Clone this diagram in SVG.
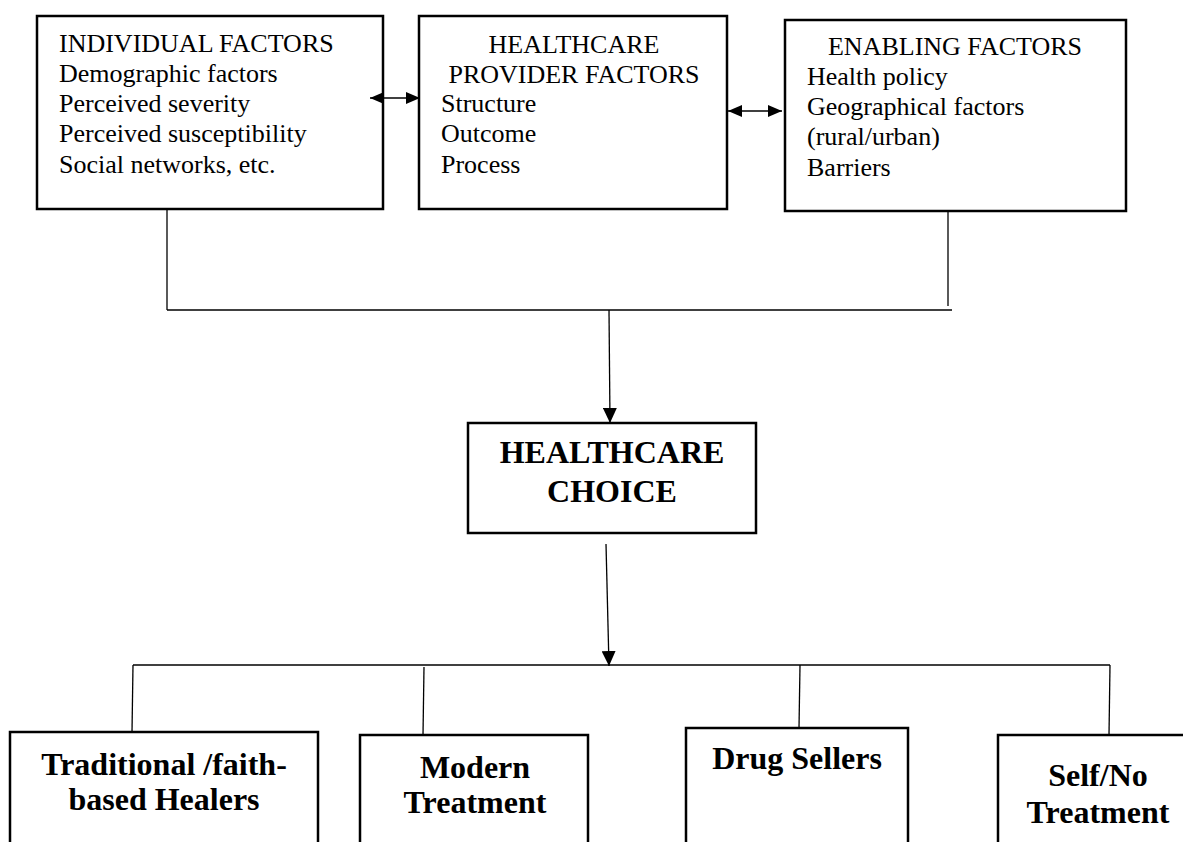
<svg xmlns="http://www.w3.org/2000/svg" width="1183" height="842" viewBox="0 0 1183 842">
<style>
.box{fill:#fff;stroke:#000;stroke-width:2.5}
.t{font-family:"Liberation Serif","Times New Roman",serif;font-size:26px;fill:#000}
.b{font-family:"Liberation Serif","Times New Roman",serif;font-size:32px;font-weight:bold;fill:#000;text-anchor:middle}
.c{stroke:#000;stroke-width:1.3;fill:none}
</style>
<defs>
<marker id="ah" markerUnits="userSpaceOnUse" markerWidth="16" markerHeight="14" refX="15" refY="7" orient="auto-start-reverse">
<path d="M0,0 L15,7 L0,14 Z" fill="#000"/>
</marker>
<marker id="dh" markerUnits="userSpaceOnUse" markerWidth="16" markerHeight="12" refX="14" refY="6" orient="auto-start-reverse">
<path d="M0,0 L14,6 L0,12 Z" fill="#000"/>
</marker>
</defs>
<rect width="1183" height="842" fill="#fff"/>
<g id="individual">
<rect class="box" x="37" y="16" width="346" height="193"/>
<text class="t" x="59" y="52">INDIVIDUAL FACTORS</text>
<text class="t" x="59" y="82">Demographic factors</text>
<text class="t" x="59" y="112">Perceived severity</text>
<text class="t" x="59" y="142">Perceived susceptibility</text>
<text class="t" x="59" y="173">Social networks, etc.</text>
</g>
<g id="provider">
<rect class="box" x="419" y="16" width="308" height="193"/>
<text class="t" x="574" y="53" text-anchor="middle">HEALTHCARE</text>
<text class="t" x="574" y="83" text-anchor="middle">PROVIDER FACTORS</text>
<text class="t" x="441" y="112">Structure</text>
<text class="t" x="441" y="142">Outcome</text>
<text class="t" x="441" y="173">Process</text>
</g>
<g id="enabling">
<rect class="box" x="785" y="20" width="341" height="191"/>
<text class="t" x="955" y="55" text-anchor="middle">ENABLING FACTORS</text>
<text class="t" x="807" y="85">Health policy</text>
<text class="t" x="807" y="115">Geographical factors</text>
<text class="t" x="807" y="145">(rural/urban)</text>
<text class="t" x="807" y="176">Barriers</text>
</g>
<g id="choice">
<rect class="box" x="468" y="423" width="288" height="110"/>
<text class="b" x="612" y="463">HEALTHCARE</text>
<text class="b" x="612" y="502">CHOICE</text>
</g>
<g id="traditional">
<rect class="box" x="10" y="732" width="308" height="130"/>
<text class="b" x="164" y="775">Traditional /faith-</text>
<text class="b" x="164" y="810">based Healers</text>
</g>
<g id="modern">
<rect class="box" x="360" y="735" width="228" height="130"/>
<text class="b" x="475" y="778">Modern</text>
<text class="b" x="475" y="813">Treatment</text>
</g>
<g id="drug">
<rect class="box" x="686" y="728" width="222" height="130"/>
<text class="b" x="797" y="769">Drug Sellers</text>
</g>
<g id="self">
<rect class="box" x="998" y="735" width="220" height="130"/>
<text class="b" x="1098" y="786">Self/No</text>
<text class="b" x="1098" y="823">Treatment</text>
</g>
<g id="connectors">
<line class="c" x1="370" y1="98" x2="420" y2="98" marker-start="url(#dh)" marker-end="url(#dh)"/>
<line class="c" x1="728" y1="111" x2="782" y2="111" marker-start="url(#dh)" marker-end="url(#dh)"/>
<line class="c" x1="167" y1="209" x2="167" y2="310"/>
<line class="c" x1="948" y1="211" x2="948" y2="306"/>
<line class="c" x1="167" y1="310" x2="952" y2="310"/>
<line class="c" x1="609" y1="310" x2="610" y2="423" marker-end="url(#ah)"/>
<line class="c" x1="606" y1="544" x2="609" y2="666" marker-end="url(#ah)"/>
<line class="c" x1="133" y1="665" x2="1110" y2="665"/>
<line class="c" x1="133" y1="665" x2="132" y2="732"/>
<line class="c" x1="424" y1="667" x2="423" y2="735"/>
<line class="c" x1="800" y1="665" x2="799" y2="728"/>
<line class="c" x1="1110" y1="665" x2="1109" y2="735"/>
</g>
</svg>
